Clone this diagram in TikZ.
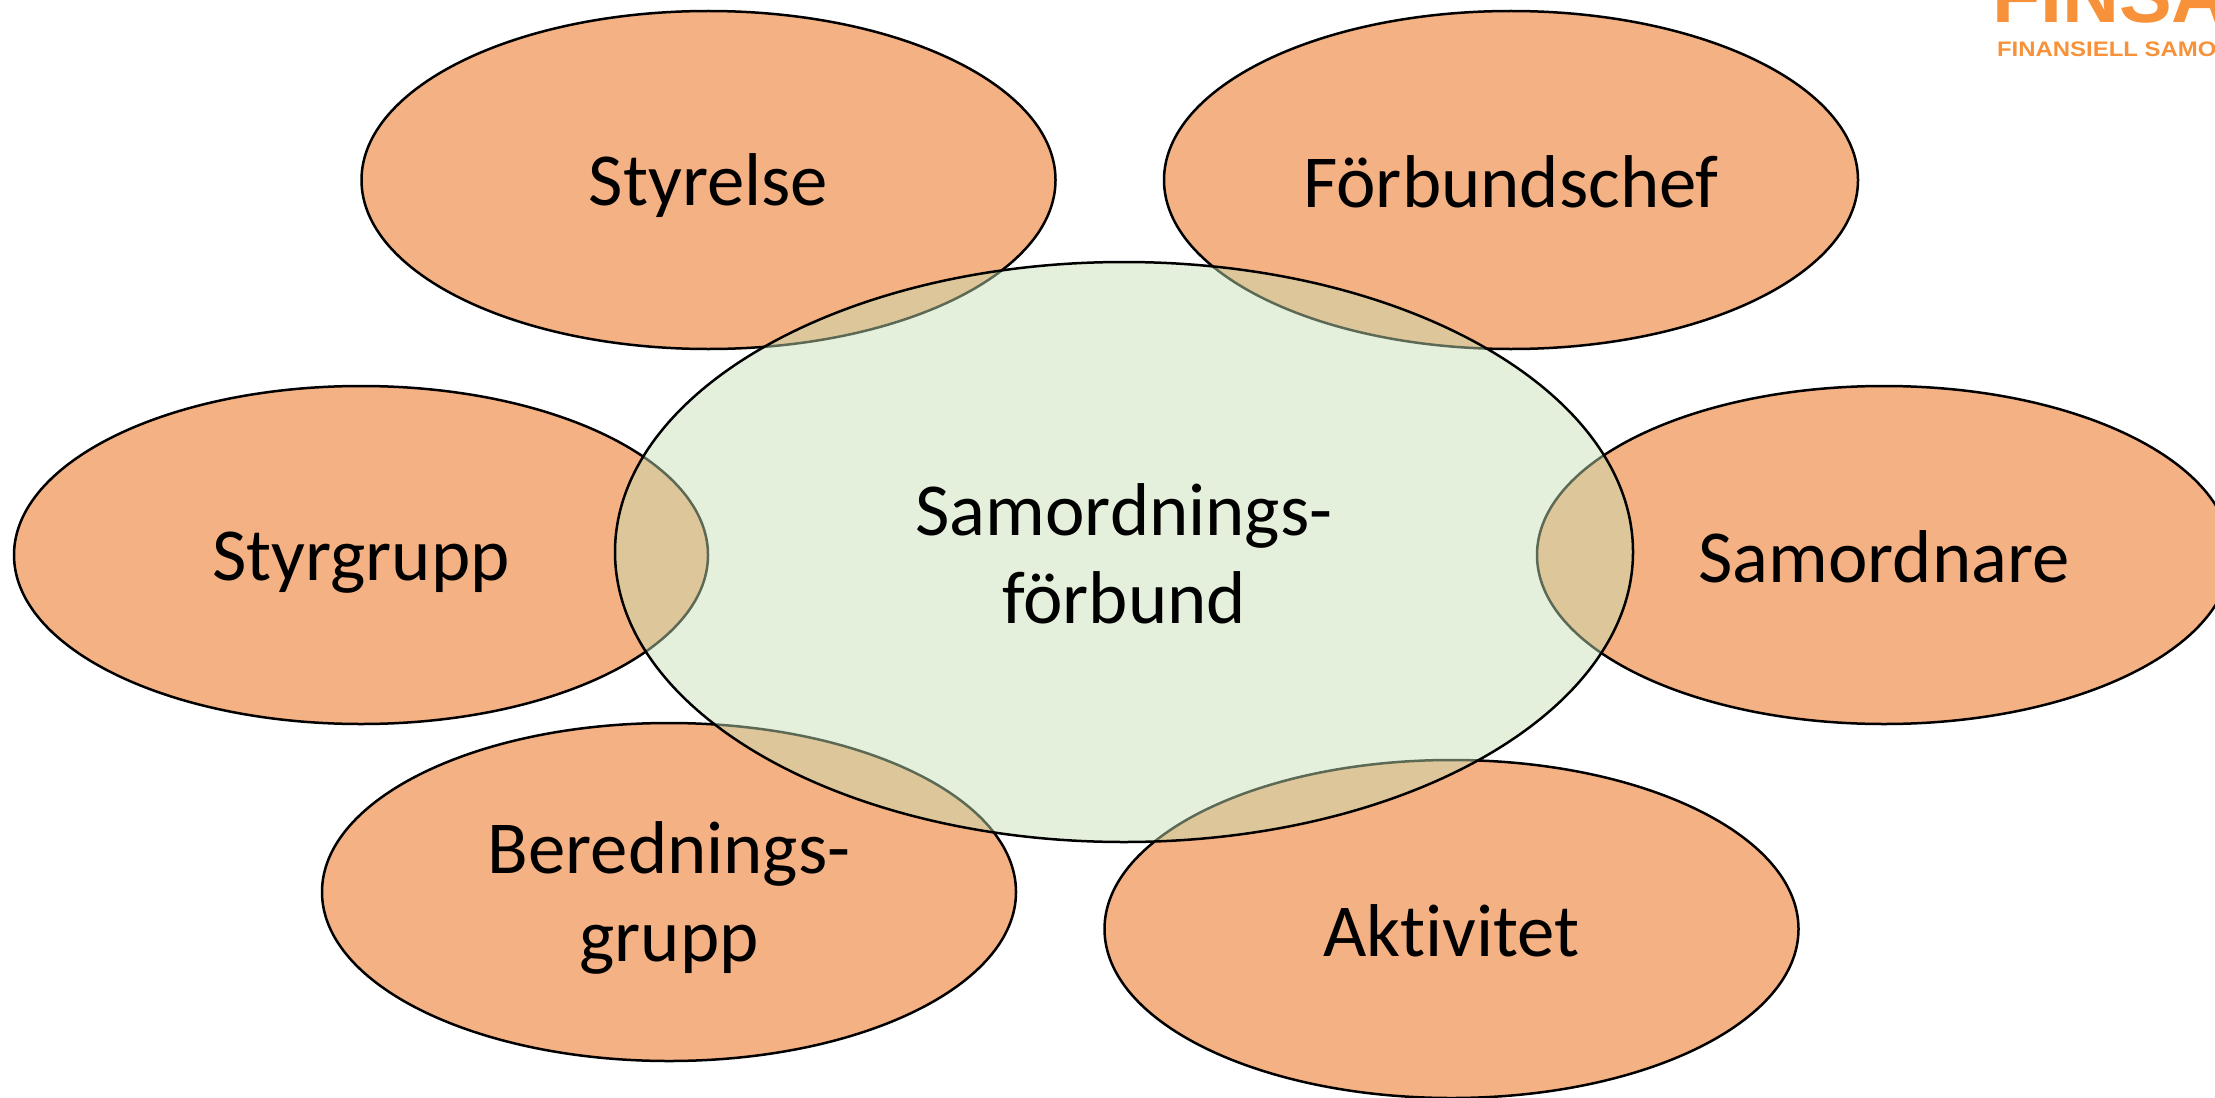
\documentclass[tikz,border=0pt]{standalone}
\usepackage{fontspec}
\setmainfont{Carlito}[Ligatures={NoCommon}]
\newfontfamily\logofont{Liberation Sans}
\usetikzlibrary{shapes.geometric}
\definecolor{petal}{HTML}{F4B183}
\definecolor{hub}{HTML}{C5E0B4}
\definecolor{logoorange}{HTML}{F7923A}
\newcommand{\lblstrut}{\rule{0pt}{32pt}\rule[-4.5pt]{0pt}{4.5pt}}
\tikzset{
  petal/.style={ellipse,draw=black,line width=1.25pt,fill=petal,minimum width=347pt,minimum height=169pt,inner sep=0pt,outer sep=0pt,align=center,font=\fontsize{37.4}{44}\selectfont},
  hub/.style={ellipse,draw=black,line width=1.25pt,fill=hub,fill opacity=0.47,text opacity=1,minimum width=509pt,minimum height=290pt,inner sep=0pt,outer sep=0pt,align=center,font=\fontsize{37.4}{44}\selectfont},
  logobig/.style={anchor=base west,inner sep=0pt,outer sep=0pt,text=logoorange,font=\logofont\bfseries\fontsize{39.5}{41}\selectfont},
  logosmall/.style={anchor=base west,inner sep=0pt,outer sep=0pt,xscale=1.14,text=logoorange,font=\logofont\bfseries\fontsize{10.5}{11}\selectfont}
}
\begin{document}
\begin{tikzpicture}[x=0.5pt,y=-0.5pt]
\useasboundingbox (0,0) rectangle (2215,1097);
\clip (0,0) rectangle (2215,1097);
\node[logobig] (logotop) at (1992,23) {FINSA};
\node[logosmall] (logosub) at (1997,57) {FINANSIELL SAMO};
\node[petal] (styrelse) at (708.5,180) {\lblstrut Styrelse};
\node[petal] (forbundschef) at (1511,180) {\lblstrut Förbundschef};
\node[petal] (styrgrupp) at (361,555) {\lblstrut Styrgrupp};
\node[petal] (samordnare) at (1884,555) {\lblstrut Samordnare};
\node[petal] (beredning) at (669,892) {\lblstrut Berednings-\\\lblstrut grupp};
\node[petal] (aktivitet) at (1451.5,929) {\lblstrut Aktivitet};
\node[hub] (hubnode) at (1124,552) {\lblstrut Samordnings-\\\lblstrut förbund};
\end{tikzpicture}
\end{document}
